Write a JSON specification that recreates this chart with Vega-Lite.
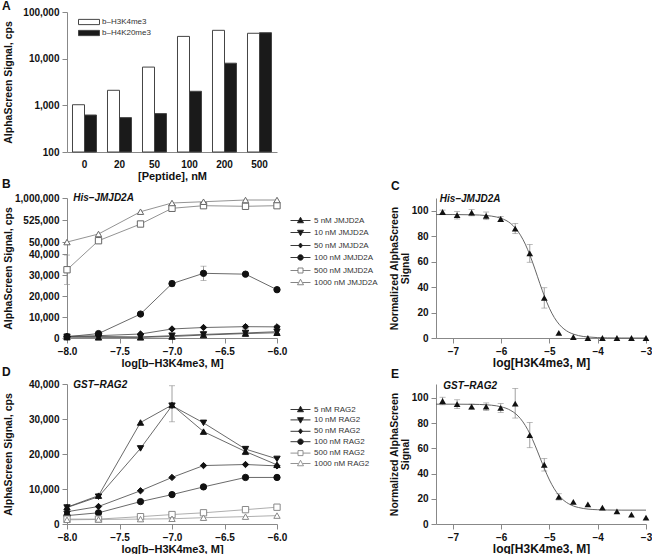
{
  "$schema": "https://vega.github.io/schema/vega-lite/v6.json",
  "background": "white",
  "padding": {"left": 2, "top": 0, "right": 0, "bottom": 0},
  "columns": 2,
  "spacing": {"row": 46, "column": 159},
  "bounds": "flush",
  "align": "all",
  "datasets": {
    "a": [
      {"pep": "0", "series": "b–H3K4me3", "v": 1030}, {"pep": "0", "series": "b–H4K20me3", "v": 620},
      {"pep": "20", "series": "b–H3K4me3", "v": 2100}, {"pep": "20", "series": "b–H4K20me3", "v": 545},
      {"pep": "50", "series": "b–H3K4me3", "v": 6600}, {"pep": "50", "series": "b–H4K20me3", "v": 665},
      {"pep": "100", "series": "b–H3K4me3", "v": 30000}, {"pep": "100", "series": "b–H4K20me3", "v": 2000},
      {"pep": "200", "series": "b–H3K4me3", "v": 40500}, {"pep": "200", "series": "b–H4K20me3", "v": 8000},
      {"pep": "500", "series": "b–H3K4me3", "v": 35000}, {"pep": "500", "series": "b–H4K20me3", "v": 36000}
    ],
    "b": [
      {"series": "5 nM JMJD2A", "x": -8, "v": 400}, {"series": "5 nM JMJD2A", "x": -7.7, "v": 300}, {"series": "5 nM JMJD2A", "x": -7.3, "v": 300},
      {"series": "5 nM JMJD2A", "x": -7, "v": 700, "lo": 300, "hi": 1100}, {"series": "5 nM JMJD2A", "x": -6.7, "v": 1400, "lo": 900, "hi": 1900},
      {"series": "5 nM JMJD2A", "x": -6.3, "v": 2100, "lo": 1500, "hi": 2700}, {"series": "5 nM JMJD2A", "x": -6, "v": 2500, "lo": 1900, "hi": 3100},
      {"series": "10 nM JMJD2A", "x": -8, "v": 600}, {"series": "10 nM JMJD2A", "x": -7.7, "v": 700}, {"series": "10 nM JMJD2A", "x": -7.3, "v": 500},
      {"series": "10 nM JMJD2A", "x": -7, "v": 1100, "lo": 400, "hi": 1800}, {"series": "10 nM JMJD2A", "x": -6.7, "v": 1700, "lo": 1000, "hi": 2400},
      {"series": "10 nM JMJD2A", "x": -6.3, "v": 2400, "lo": 1700, "hi": 3100}, {"series": "10 nM JMJD2A", "x": -6, "v": 3000, "lo": 2200, "hi": 3800},
      {"series": "50 nM JMJD2A", "x": -8, "v": 800}, {"series": "50 nM JMJD2A", "x": -7.7, "v": 1100}, {"series": "50 nM JMJD2A", "x": -7.3, "v": 1900},
      {"series": "50 nM JMJD2A", "x": -7, "v": 4300}, {"series": "50 nM JMJD2A", "x": -6.7, "v": 5000},
      {"series": "50 nM JMJD2A", "x": -6.3, "v": 5400, "lo": 4600, "hi": 6200}, {"series": "50 nM JMJD2A", "x": -6, "v": 5300, "lo": 4600, "hi": 6000},
      {"series": "100 nM JMJD2A", "x": -8, "v": 600}, {"series": "100 nM JMJD2A", "x": -7.7, "v": 2100}, {"series": "100 nM JMJD2A", "x": -7.3, "v": 11400},
      {"series": "100 nM JMJD2A", "x": -7, "v": 25900, "lo": 24600, "hi": 27200}, {"series": "100 nM JMJD2A", "x": -6.7, "v": 30800, "lo": 27400, "hi": 34200},
      {"series": "100 nM JMJD2A", "x": -6.3, "v": 30400}, {"series": "100 nM JMJD2A", "x": -6, "v": 23000},
      {"series": "500 nM JMJD2A", "x": -8, "v": 32500, "lo": 25500, "hi": 39500}, {"series": "500 nM JMJD2A", "x": -7.7, "v": 84000},
      {"series": "500 nM JMJD2A", "x": -7.3, "v": 442000}, {"series": "500 nM JMJD2A", "x": -7, "v": 779000},
      {"series": "500 nM JMJD2A", "x": -6.7, "v": 835000}, {"series": "500 nM JMJD2A", "x": -6.3, "v": 822000}, {"series": "500 nM JMJD2A", "x": -6, "v": 835000},
      {"series": "1000 nM JMJD2A", "x": -8, "v": 55000}, {"series": "1000 nM JMJD2A", "x": -7.7, "v": 228000},
      {"series": "1000 nM JMJD2A", "x": -7.3, "v": 706000}, {"series": "1000 nM JMJD2A", "x": -7, "v": 893000},
      {"series": "1000 nM JMJD2A", "x": -6.7, "v": 920000}, {"series": "1000 nM JMJD2A", "x": -6.3, "v": 957000}, {"series": "1000 nM JMJD2A", "x": -6, "v": 957000}
    ],
    "d": [
      {"series": "5 nM RAG2", "x": -8, "v": 4800}, {"series": "5 nM RAG2", "x": -7.7, "v": 8100}, {"series": "5 nM RAG2", "x": -7.3, "v": 29000},
      {"series": "5 nM RAG2", "x": -7, "v": 34000}, {"series": "5 nM RAG2", "x": -6.7, "v": 26400},
      {"series": "5 nM RAG2", "x": -6.3, "v": 20700, "lo": 19800, "hi": 21600}, {"series": "5 nM RAG2", "x": -6, "v": 16900},
      {"series": "10 nM RAG2", "x": -8, "v": 4700}, {"series": "10 nM RAG2", "x": -7.7, "v": 7800}, {"series": "10 nM RAG2", "x": -7.3, "v": 21600},
      {"series": "10 nM RAG2", "x": -7, "v": 33800, "lo": 29200, "hi": 39500}, {"series": "10 nM RAG2", "x": -6.7, "v": 28900},
      {"series": "10 nM RAG2", "x": -6.3, "v": 21400}, {"series": "10 nM RAG2", "x": -6, "v": 18600},
      {"series": "50 nM RAG2", "x": -8, "v": 3500}, {"series": "50 nM RAG2", "x": -7.7, "v": 5000}, {"series": "50 nM RAG2", "x": -7.3, "v": 9500},
      {"series": "50 nM RAG2", "x": -7, "v": 13300}, {"series": "50 nM RAG2", "x": -6.7, "v": 16700}, {"series": "50 nM RAG2", "x": -6.3, "v": 17000}, {"series": "50 nM RAG2", "x": -6, "v": 16600},
      {"series": "100 nM RAG2", "x": -8, "v": 2400}, {"series": "100 nM RAG2", "x": -7.7, "v": 3200}, {"series": "100 nM RAG2", "x": -7.3, "v": 6400},
      {"series": "100 nM RAG2", "x": -7, "v": 8400}, {"series": "100 nM RAG2", "x": -6.7, "v": 10600}, {"series": "100 nM RAG2", "x": -6.3, "v": 13300}, {"series": "100 nM RAG2", "x": -6, "v": 13300},
      {"series": "500 nM RAG2", "x": -8, "v": 1400}, {"series": "500 nM RAG2", "x": -7.7, "v": 1400}, {"series": "500 nM RAG2", "x": -7.3, "v": 2100},
      {"series": "500 nM RAG2", "x": -7, "v": 2700}, {"series": "500 nM RAG2", "x": -6.7, "v": 3200}, {"series": "500 nM RAG2", "x": -6.3, "v": 4100}, {"series": "500 nM RAG2", "x": -6, "v": 4800},
      {"series": "1000 nM RAG2", "x": -8, "v": 1200}, {"series": "1000 nM RAG2", "x": -7.7, "v": 1300}, {"series": "1000 nM RAG2", "x": -7.3, "v": 1400},
      {"series": "1000 nM RAG2", "x": -7, "v": 1500}, {"series": "1000 nM RAG2", "x": -6.7, "v": 1800}, {"series": "1000 nM RAG2", "x": -6.3, "v": 2100}, {"series": "1000 nM RAG2", "x": -6, "v": 2400}
    ],
    "c": [
      {"x": -7.214, "v": 99, "lo": 97.5, "hi": 100.5}, {"x": -6.913, "v": 96.5, "lo": 93.5, "hi": 99.5},
      {"x": -6.612, "v": 98.5, "lo": 96, "hi": 101}, {"x": -6.311, "v": 96, "lo": 93, "hi": 99},
      {"x": -6.01, "v": 93.5, "lo": 91.5, "hi": 95.5}, {"x": -5.709, "v": 86, "lo": 82, "hi": 90},
      {"x": -5.408, "v": 66.5, "lo": 59.5, "hi": 73.5}, {"x": -5.107, "v": 31.5, "lo": 23.5, "hi": 39.5},
      {"x": -4.806, "v": 4}, {"x": -4.505, "v": 0.8}, {"x": -4.204, "v": 0}, {"x": -3.903, "v": 0},
      {"x": -3.602, "v": 0}, {"x": -3.301, "v": 0}, {"x": -3.0, "v": 0}
    ],
    "cfit": [
      {"x": -7.35, "v": 97}, {"x": -7.0, "v": 97}, {"x": -6.6, "v": 96.8}, {"x": -6.3, "v": 96.2}, {"x": -6.1, "v": 95.1},
      {"x": -6.0, "v": 94}, {"x": -5.9, "v": 92.4}, {"x": -5.8, "v": 89.9}, {"x": -5.7, "v": 86.1}, {"x": -5.6, "v": 80.8},
      {"x": -5.5, "v": 73.7}, {"x": -5.4, "v": 64.6}, {"x": -5.3, "v": 54.1}, {"x": -5.2, "v": 42.9}, {"x": -5.1, "v": 32.4},
      {"x": -5.0, "v": 23.3}, {"x": -4.9, "v": 16.1}, {"x": -4.8, "v": 10.8}, {"x": -4.7, "v": 7.1}, {"x": -4.6, "v": 4.6},
      {"x": -4.5, "v": 3.0}, {"x": -4.4, "v": 1.9}, {"x": -4.3, "v": 1.2}, {"x": -4.2, "v": 0.8}, {"x": -4.0, "v": 0.3},
      {"x": -3.8, "v": 0.1}, {"x": -3.5, "v": 0}, {"x": -3.0, "v": 0}
    ],
    "e": [
      {"x": -7.214, "v": 97.5, "lo": 94.5, "hi": 100.5}, {"x": -6.913, "v": 95, "lo": 91.5, "hi": 98.5},
      {"x": -6.612, "v": 93, "lo": 91, "hi": 95}, {"x": -6.311, "v": 93, "lo": 90, "hi": 96},
      {"x": -6.01, "v": 92, "lo": 88.5, "hi": 95.5}, {"x": -5.709, "v": 95.5, "lo": 84, "hi": 107.5},
      {"x": -5.408, "v": 70.5, "lo": 60.5, "hi": 80.5}, {"x": -5.107, "v": 47, "lo": 42, "hi": 52},
      {"x": -4.806, "v": 21.5, "lo": 19, "hi": 24}, {"x": -4.505, "v": 17.5}, {"x": -4.204, "v": 15.5},
      {"x": -3.903, "v": 13}, {"x": -3.602, "v": 10}, {"x": -3.301, "v": 7.5}, {"x": -3.0, "v": 5}
    ],
    "efit": [
      {"x": -7.35, "v": 95}, {"x": -7.0, "v": 95}, {"x": -6.6, "v": 94.9}, {"x": -6.3, "v": 94.5}, {"x": -6.1, "v": 93.7},
      {"x": -6.0, "v": 92.9}, {"x": -5.9, "v": 91.8}, {"x": -5.8, "v": 90}, {"x": -5.7, "v": 87.4}, {"x": -5.6, "v": 83.5},
      {"x": -5.5, "v": 78.1}, {"x": -5.4, "v": 71.1}, {"x": -5.3, "v": 62.5}, {"x": -5.2, "v": 53}, {"x": -5.1, "v": 43.5},
      {"x": -5.0, "v": 34.9}, {"x": -4.9, "v": 27.9}, {"x": -4.8, "v": 22.5}, {"x": -4.7, "v": 18.6}, {"x": -4.6, "v": 16},
      {"x": -4.5, "v": 14.2}, {"x": -4.4, "v": 13.1}, {"x": -4.3, "v": 12.3}, {"x": -4.2, "v": 11.8}, {"x": -4.0, "v": 11.3},
      {"x": -3.8, "v": 11.1}, {"x": -3.5, "v": 11}, {"x": -3.0, "v": 11}
    ]
  },
  "concat": [
    {
      "width": 210, "height": 140,
      "title": {"text": "A", "dx": -65, "offset": -6},
      "data": {"name": "a"},
      "mark": {"type": "bar", "stroke": "#444", "strokeWidth": 1},
      "encoding": {
        "x": {"field": "pep", "type": "ordinal", "sort": ["0", "20", "50", "100", "200", "500"],
              "scale": {"paddingInner": 0.314, "paddingOuter": 0.157},
              "axis": {"title": "[Peptide], nM", "ticks": false, "labelAngle": 0, "labelPadding": 7}},
        "xOffset": {"field": "series", "type": "nominal", "sort": ["b–H3K4me3", "b–H4K20me3"]},
        "y": {"field": "v", "type": "quantitative", "stack": null, "scale": {"type": "log", "domain": [100, 100000], "nice": false},
              "axis": {"title": "AlphaScreen Signal, cps", "values": [100, 1000, 10000, 100000], "format": ",d", "titleX": -54, "tickCount": 12}},
        "fill": {"field": "series", "type": "nominal",
                 "scale": {"domain": ["b–H3K4me3", "b–H4K20me3"], "range": ["white", "#1a1a1a"]},
                 "legend": {"symbolType": "M-2,-0.5H2V0.5H-2Z", "symbolSize": 110, "symbolStrokeColor": "#444", "symbolStrokeWidth": 1,
                            "labelOffset": 7, "rowPadding": -1.3, "legendX": 16, "legendY": 4}}
      }
    },
    {
      "width": 210, "height": 140,
      "data": {"values": [{}]},
      "mark": {"type": "text"},
      "encoding": {"text": {"value": ""}}
    },
    {
      "width": 210, "height": 140,
      "title": {"text": "B", "dx": -65, "offset": 2},
      "data": {"name": "b"},
      "resolve": {"scale": {"shape": "independent", "fill": "independent", "stroke": "independent"}},
      "layer": [
        {
          "transform": [{"filter": "isValid(datum.lo)"}],
          "mark": {"type": "errorbar", "color": "#888", "thickness": 0.8, "ticks": {"size": 6}},
          "encoding": {
            "x": {"field": "x", "type": "quantitative", "title": "log[b–H3K4me3, M]"},
            "y": {"field": "lo", "type": "quantitative", "title": "AlphaScreen Signal, cps"},
            "y2": {"field": "hi"}
          }
        },
        {
          "mark": {"type": "line", "strokeWidth": 0.8},
          "encoding": {
            "x": {"field": "x", "type": "quantitative", "title": "log[b–H3K4me3, M]", "scale": {"domain": [-8, -6], "nice": false, "zero": false},
                  "axis": {"values": [-8, -7.5, -7, -6.5, -6], "format": ".1f"}},
            "y": {"field": "v", "type": "quantitative", "title": "AlphaScreen Signal, cps",
                  "scale": {"domain": [0, 40000, 50000, 1000000], "range": [140, 56, 44.3, 0], "nice": false, "zero": false},
                  "axis": {"values": [0, 10000, 20000, 30000, 40000, 50000, 525000, 1000000], "format": ",d", "titleX": -54, "tickCount": 12}},
            "detail": {"field": "series"},
            "stroke": {"field": "series", "type": "nominal",
                       "scale": {"domain": ["5 nM JMJD2A", "10 nM JMJD2A", "50 nM JMJD2A", "100 nM JMJD2A", "500 nM JMJD2A", "1000 nM JMJD2A"],
                                 "range": ["#444", "#444", "#444", "#444", "#777", "#777"]}, "legend": null}
          }
        },
        {
          "mark": {"type": "point", "opacity": 1, "strokeWidth": 1, "size": 40},
          "encoding": {
            "x": {"field": "x", "type": "quantitative", "title": "log[b–H3K4me3, M]"},
            "y": {"field": "v", "type": "quantitative", "title": "AlphaScreen Signal, cps"},
            "shape": {"field": "series", "type": "nominal",
                      "scale": {"domain": ["5 nM JMJD2A", "10 nM JMJD2A", "50 nM JMJD2A", "100 nM JMJD2A", "500 nM JMJD2A", "1000 nM JMJD2A"],
                                "range": ["triangle-up", "triangle-down", "diamond", "circle", "square", "triangle-up"]}, "legend": null},
            "fill": {"field": "series", "type": "nominal",
                     "scale": {"domain": ["5 nM JMJD2A", "10 nM JMJD2A", "50 nM JMJD2A", "100 nM JMJD2A", "500 nM JMJD2A", "1000 nM JMJD2A"],
                               "range": ["#111", "#111", "#111", "#111", "white", "white"]}, "legend": null},
            "stroke": {"field": "series", "type": "nominal",
                       "scale": {"domain": ["5 nM JMJD2A", "10 nM JMJD2A", "50 nM JMJD2A", "100 nM JMJD2A", "500 nM JMJD2A", "1000 nM JMJD2A"],
                                 "range": ["#111", "#111", "#111", "#111", "#666", "#666"]}, "legend": null}
          }
        },
        {
          "transform": [{"filter": "datum.x > 100"}],
          "mark": {"type": "point", "opacity": 1, "strokeWidth": 0.9, "size": 100},
          "encoding": {
            "shape": {"field": "series", "type": "nominal",
                      "scale": {"domain": ["5 nM JMJD2A", "10 nM JMJD2A", "50 nM JMJD2A", "100 nM JMJD2A", "500 nM JMJD2A", "1000 nM JMJD2A"],
                                "range": ["M-2,0H2M0,-0.65L0.6,0.45L-0.6,0.45Z", "M-2,0H2M0,0.65L0.6,-0.45L-0.6,-0.45Z", "M-2,0H2M0,-0.5L0.4,0L0,0.5L-0.4,0Z",
                                          "M-2,0H2M-0.55,0A0.55,0.55,0,1,0,0.55,0A0.55,0.55,0,1,0,-0.55,0Z", "M-2,0H-0.5M0.5,0H2M-0.5,-0.5H0.5V0.5H-0.5Z",
                                          "M-2,0H-0.45M0.45,0H2M0,-0.65L0.6,0.45L-0.6,0.45Z"]},
                      "legend": {"symbolSize": 100, "labelOffset": 8, "rowPadding": 2, "legendX": 228, "legendY": 17, "symbolStrokeWidth": 0.9}},
            "fill": {"field": "series", "type": "nominal",
                     "scale": {"domain": ["5 nM JMJD2A", "10 nM JMJD2A", "50 nM JMJD2A", "100 nM JMJD2A", "500 nM JMJD2A", "1000 nM JMJD2A"],
                               "range": ["#111", "#111", "#111", "#111", "white", "white"]},
                     "legend": {"symbolSize": 100, "labelOffset": 8, "rowPadding": 2, "legendX": 228, "legendY": 17, "symbolStrokeWidth": 0.9}},
            "stroke": {"field": "series", "type": "nominal",
                       "scale": {"domain": ["5 nM JMJD2A", "10 nM JMJD2A", "50 nM JMJD2A", "100 nM JMJD2A", "500 nM JMJD2A", "1000 nM JMJD2A"],
                                 "range": ["#222", "#222", "#222", "#222", "#777", "#777"]},
                       "legend": {"symbolSize": 100, "labelOffset": 8, "rowPadding": 2, "legendX": 228, "legendY": 17, "symbolStrokeWidth": 0.9}}
          }
        },
        {
          "data": {"values": [{"x": -7.94, "v": 1000000, "t": "His–JMJD2A"}]},
          "mark": {"type": "text", "align": "left", "baseline": "middle", "fontStyle": "italic", "fontWeight": "bold", "fontSize": 10, "color": "#111"},
          "encoding": {
            "x": {"field": "x", "type": "quantitative", "title": "log[b–H3K4me3, M]"},
            "y": {"field": "v", "type": "quantitative", "title": "AlphaScreen Signal, cps"},
            "text": {"field": "t"}
          }
        }
      ]
    },
    {
      "width": 210, "height": 140,
      "title": {"text": "C", "dx": -45, "offset": 1},
      "layer": [
        {
          "data": {"name": "c"},
          "transform": [{"filter": "isValid(datum.lo)"}],
          "mark": {"type": "errorbar", "color": "#888", "thickness": 0.8, "ticks": {"size": 6}},
          "encoding": {
            "x": {"field": "x", "type": "quantitative", "title": "log[H3K4me3, M]"},
            "y": {"field": "lo", "type": "quantitative", "title": ["Normalized AlphaScreen", "Signal"]},
            "y2": {"field": "hi"}
          }
        },
        {
          "data": {"name": "cfit"},
          "mark": {"type": "line", "color": "#555", "strokeWidth": 0.9, "interpolate": "monotone"},
          "encoding": {
            "x": {"field": "x", "type": "quantitative", "title": "log[H3K4me3, M]", "scale": {"domain": [-7.35, -3], "nice": false, "zero": false},
                  "axis": {"values": [-7, -6, -5, -4, -3], "format": "d", "titleFontSize": 12}},
            "y": {"field": "v", "type": "quantitative", "title": ["Normalized AlphaScreen", "Signal"], "scale": {"domain": [0, 110], "nice": false},
                  "axis": {"values": [0, 20, 40, 60, 80, 100], "titleX": -37, "titleY": 70, "titleLineHeight": 11, "tickCount": 12}}
          }
        },
        {
          "data": {"name": "c"},
          "mark": {"type": "point", "shape": "triangle-up", "filled": true, "color": "#111", "opacity": 1, "size": 45},
          "encoding": {
            "x": {"field": "x", "type": "quantitative", "title": "log[H3K4me3, M]"},
            "y": {"field": "v", "type": "quantitative", "title": ["Normalized AlphaScreen", "Signal"]}
          }
        },
        {
          "data": {"values": [{"x": -7.27, "v": 109.5, "t": "His–JMJD2A"}]},
          "mark": {"type": "text", "align": "left", "baseline": "middle", "fontStyle": "italic", "fontWeight": "bold", "fontSize": 10, "color": "#111"},
          "encoding": {
            "x": {"field": "x", "type": "quantitative", "title": "log[H3K4me3, M]"},
            "y": {"field": "v", "type": "quantitative", "title": ["Normalized AlphaScreen", "Signal"]},
            "text": {"field": "t"}
          }
        }
      ]
    },
    {
      "width": 210, "height": 140,
      "title": {"text": "D", "dx": -65, "offset": 0},
      "data": {"name": "d"},
      "resolve": {"scale": {"shape": "independent", "fill": "independent", "stroke": "independent"}},
      "layer": [
        {
          "transform": [{"filter": "isValid(datum.lo)"}],
          "mark": {"type": "errorbar", "color": "#888", "thickness": 0.8, "ticks": {"size": 6}},
          "encoding": {
            "x": {"field": "x", "type": "quantitative", "title": "log[b–H3K4me3, M]"},
            "y": {"field": "lo", "type": "quantitative", "title": "AlphaScreen Signal, cps"},
            "y2": {"field": "hi"}
          }
        },
        {
          "mark": {"type": "line", "strokeWidth": 0.8},
          "encoding": {
            "x": {"field": "x", "type": "quantitative", "title": "log[b–H3K4me3, M]", "scale": {"domain": [-8, -6], "nice": false, "zero": false},
                  "axis": {"values": [-8, -7.5, -7, -6.5, -6], "format": ".1f"}},
            "y": {"field": "v", "type": "quantitative", "title": "AlphaScreen Signal, cps", "scale": {"domain": [0, 40000], "nice": false},
                  "axis": {"values": [0, 10000, 20000, 30000, 40000], "format": ",d", "titleX": -54, "tickCount": 12}},
            "detail": {"field": "series"},
            "stroke": {"field": "series", "type": "nominal",
                       "scale": {"domain": ["5 nM RAG2", "10 nM RAG2", "50 nM RAG2", "100 nM RAG2", "500 nM RAG2", "1000 nM RAG2"],
                                 "range": ["#444", "#444", "#444", "#444", "#999", "#999"]}, "legend": null}
          }
        },
        {
          "mark": {"type": "point", "opacity": 1, "strokeWidth": 1, "size": 40},
          "encoding": {
            "x": {"field": "x", "type": "quantitative", "title": "log[b–H3K4me3, M]"},
            "y": {"field": "v", "type": "quantitative", "title": "AlphaScreen Signal, cps"},
            "shape": {"field": "series", "type": "nominal",
                      "scale": {"domain": ["5 nM RAG2", "10 nM RAG2", "50 nM RAG2", "100 nM RAG2", "500 nM RAG2", "1000 nM RAG2"],
                                "range": ["triangle-up", "triangle-down", "diamond", "circle", "square", "triangle-up"]}, "legend": null},
            "fill": {"field": "series", "type": "nominal",
                     "scale": {"domain": ["5 nM RAG2", "10 nM RAG2", "50 nM RAG2", "100 nM RAG2", "500 nM RAG2", "1000 nM RAG2"],
                               "range": ["#111", "#111", "#111", "#111", "white", "white"]}, "legend": null},
            "stroke": {"field": "series", "type": "nominal",
                       "scale": {"domain": ["5 nM RAG2", "10 nM RAG2", "50 nM RAG2", "100 nM RAG2", "500 nM RAG2", "1000 nM RAG2"],
                                 "range": ["#111", "#111", "#111", "#111", "#888", "#888"]}, "legend": null}
          }
        },
        {
          "transform": [{"filter": "datum.x > 100"}],
          "mark": {"type": "point", "opacity": 1, "strokeWidth": 0.9, "size": 100},
          "encoding": {
            "shape": {"field": "series", "type": "nominal",
                      "scale": {"domain": ["5 nM RAG2", "10 nM RAG2", "50 nM RAG2", "100 nM RAG2", "500 nM RAG2", "1000 nM RAG2"],
                                "range": ["M-2,0H2M0,-0.65L0.6,0.45L-0.6,0.45Z", "M-2,0H2M0,0.65L0.6,-0.45L-0.6,-0.45Z", "M-2,0H2M0,-0.5L0.4,0L0,0.5L-0.4,0Z",
                                          "M-2,0H2M-0.55,0A0.55,0.55,0,1,0,0.55,0A0.55,0.55,0,1,0,-0.55,0Z", "M-2,0H-0.5M0.5,0H2M-0.5,-0.5H0.5V0.5H-0.5Z",
                                          "M-2,0H-0.45M0.45,0H2M0,-0.65L0.6,0.45L-0.6,0.45Z"]},
                      "legend": {"symbolSize": 100, "labelOffset": 8, "rowPadding": 0.4, "legendX": 228, "legendY": 20, "symbolStrokeWidth": 0.9}},
            "fill": {"field": "series", "type": "nominal",
                     "scale": {"domain": ["5 nM RAG2", "10 nM RAG2", "50 nM RAG2", "100 nM RAG2", "500 nM RAG2", "1000 nM RAG2"],
                               "range": ["#111", "#111", "#111", "#111", "white", "white"]},
                     "legend": {"symbolSize": 100, "labelOffset": 8, "rowPadding": 0.4, "legendX": 228, "legendY": 20, "symbolStrokeWidth": 0.9}},
            "stroke": {"field": "series", "type": "nominal",
                       "scale": {"domain": ["5 nM RAG2", "10 nM RAG2", "50 nM RAG2", "100 nM RAG2", "500 nM RAG2", "1000 nM RAG2"],
                                 "range": ["#222", "#222", "#222", "#222", "#888", "#888"]},
                       "legend": {"symbolSize": 100, "labelOffset": 8, "rowPadding": 0.4, "legendX": 228, "legendY": 20, "symbolStrokeWidth": 0.9}}
          }
        },
        {
          "data": {"values": [{"x": -7.94, "v": 39700, "t": "GST–RAG2"}]},
          "mark": {"type": "text", "align": "left", "baseline": "middle", "fontStyle": "italic", "fontWeight": "bold", "fontSize": 10, "color": "#111"},
          "encoding": {
            "x": {"field": "x", "type": "quantitative", "title": "log[b–H3K4me3, M]"},
            "y": {"field": "v", "type": "quantitative", "title": "AlphaScreen Signal, cps"},
            "text": {"field": "t"}
          }
        }
      ]
    },
    {
      "width": 210, "height": 140,
      "title": {"text": "E", "dx": -45, "offset": 0},
      "layer": [
        {
          "data": {"name": "e"},
          "transform": [{"filter": "isValid(datum.lo)"}],
          "mark": {"type": "errorbar", "color": "#888", "thickness": 0.8, "ticks": {"size": 6}},
          "encoding": {
            "x": {"field": "x", "type": "quantitative", "title": "log[H3K4me3, M]"},
            "y": {"field": "lo", "type": "quantitative", "title": ["Normalized AlphaScreen", "Signal"]},
            "y2": {"field": "hi"}
          }
        },
        {
          "data": {"name": "efit"},
          "mark": {"type": "line", "color": "#555", "strokeWidth": 0.9, "interpolate": "monotone"},
          "encoding": {
            "x": {"field": "x", "type": "quantitative", "title": "log[H3K4me3, M]", "scale": {"domain": [-7.35, -3], "nice": false, "zero": false},
                  "axis": {"values": [-7, -6, -5, -4, -3], "format": "d", "titleFontSize": 12}},
            "y": {"field": "v", "type": "quantitative", "title": ["Normalized AlphaScreen", "Signal"], "scale": {"domain": [0, 111], "nice": false},
                  "axis": {"values": [0, 20, 40, 60, 80, 100], "titleX": -37, "titleY": 70, "titleLineHeight": 11, "tickCount": 12}}
          }
        },
        {
          "data": {"name": "e"},
          "mark": {"type": "point", "shape": "triangle-up", "filled": true, "color": "#111", "opacity": 1, "size": 45},
          "encoding": {
            "x": {"field": "x", "type": "quantitative", "title": "log[H3K4me3, M]"},
            "y": {"field": "v", "type": "quantitative", "title": ["Normalized AlphaScreen", "Signal"]}
          }
        },
        {
          "data": {"values": [{"x": -7.2, "v": 109.5, "t": "GST–RAG2"}]},
          "mark": {"type": "text", "align": "left", "baseline": "middle", "fontStyle": "italic", "fontWeight": "bold", "fontSize": 10, "color": "#111"},
          "encoding": {
            "x": {"field": "x", "type": "quantitative", "title": "log[H3K4me3, M]"},
            "y": {"field": "v", "type": "quantitative", "title": ["Normalized AlphaScreen", "Signal"]},
            "text": {"field": "t"}
          }
        }
      ]
    }
  ],
  "config": {
    "font": "Liberation Sans",
    "view": {"stroke": null},
    "axis": {"grid": false, "domainColor": "#888", "tickColor": "#888", "labelColor": "#111", "labelFontSize": 10, "labelFontWeight": "bold",
             "titleFontSize": 11, "titleFontWeight": "bold", "titleColor": "#111", "tickSize": 5, "labelPadding": 3, "titlePadding": 4,
             "labelFlush": false, "labelOverlap": false},
    "axisX": {"labelPadding": 3, "titlePadding": 1},
    "axisY": {"titleFontSize": 10.5},
    "legend": {"labelFontSize": 8, "labelColor": "#333", "orient": "none", "padding": 0, "title": null, "labelFont": "Liberation Sans"},
    "title": {"fontSize": 12, "fontWeight": "bold", "anchor": "start", "frame": "group", "color": "#111"}
  }
}
